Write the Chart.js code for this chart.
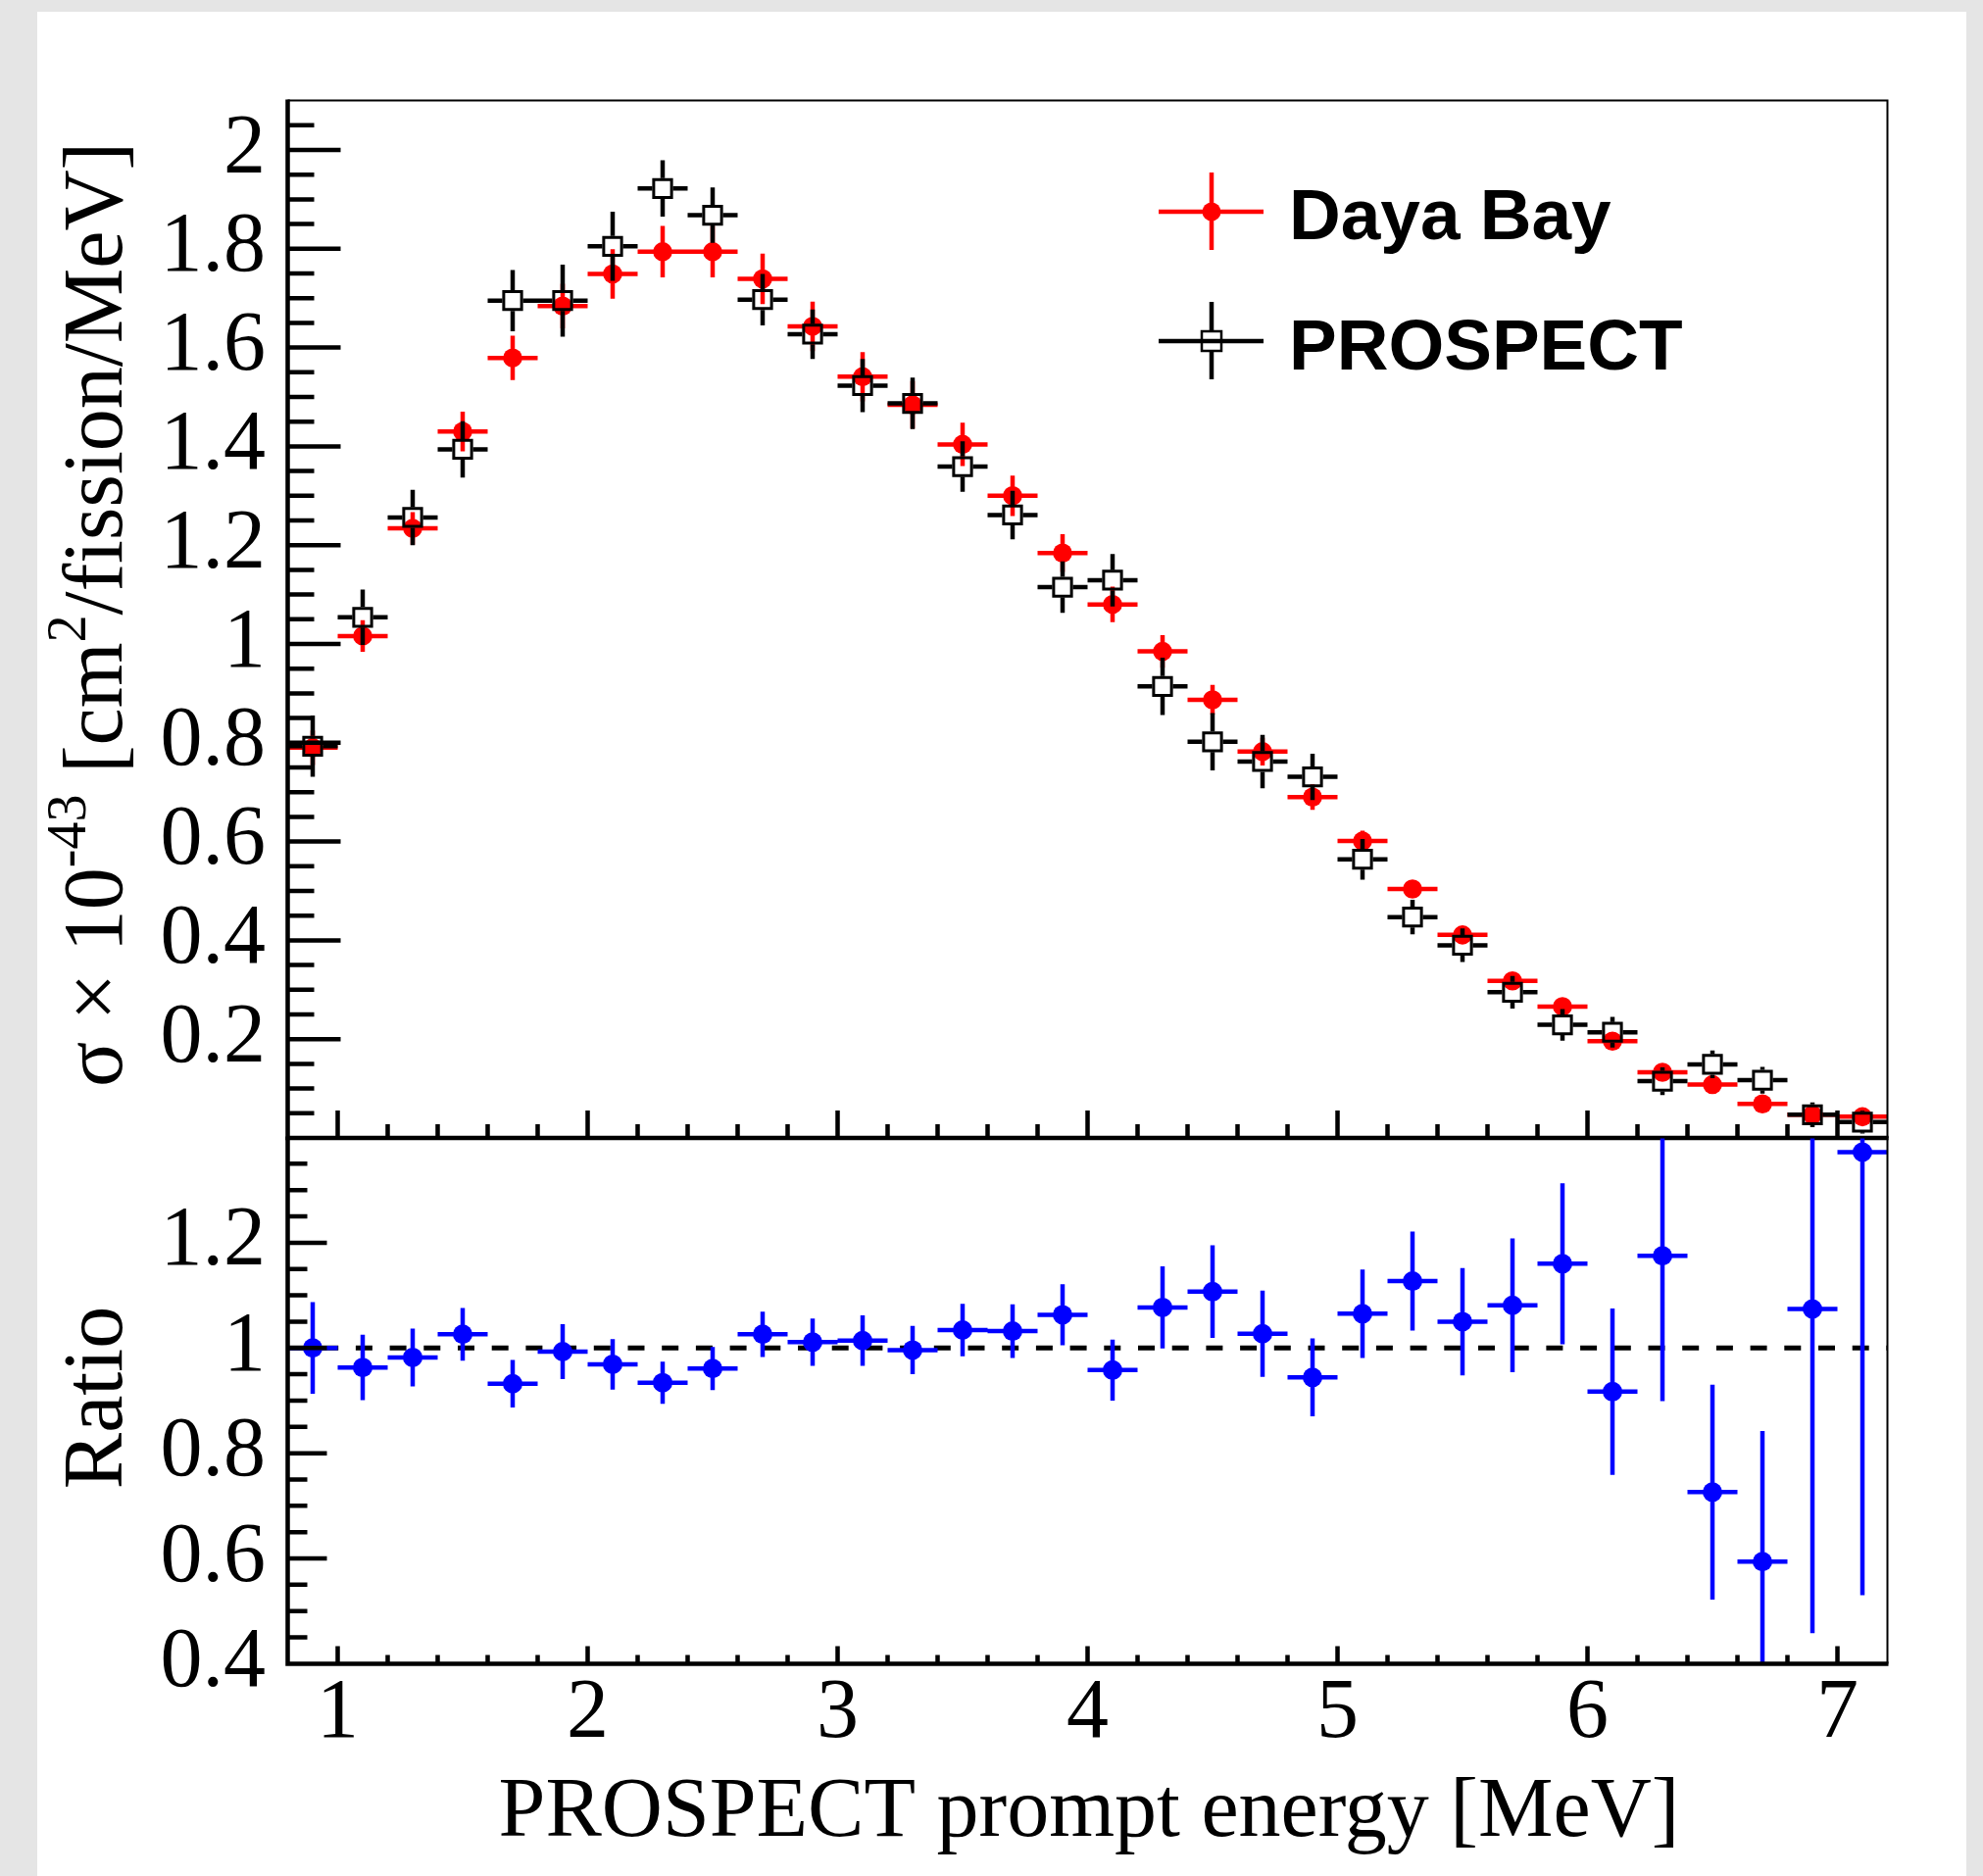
<!DOCTYPE html>
<html>
<head>
<meta charset="utf-8">
<script src="https://cdn.jsdelivr.net/npm/chart.js@4.4.0/dist/chart.umd.min.js"></script>
<style>
  html, body { margin: 0; padding: 0; background: #e5e5e5; }
  #page  { position: relative; width: 2023px; height: 1914px; overflow: hidden; }
  #paper { position: absolute; left: 38px; top: 12px; width: 1968px; height: 1902px; background: #fff; }
  canvas { position: absolute; left: 0; }
  #spectrum { top: 0; }
  #ratio    { top: 1080px; }
</style>
</head>
<body>
<div id="page">
  <div id="paper"></div>
  <canvas id="spectrum" width="2023" height="1241"></canvas>
  <canvas id="ratio" width="2023" height="834"></canvas>
</div>
<script>
// Bin centres [MeV], each bin is 0.2 MeV wide
const energy = [0.9, 1.1, 1.3, 1.5, 1.7, 1.9, 2.1, 2.3, 2.5, 2.7, 2.9, 3.1, 3.3, 3.5, 3.7, 3.9,
                4.1, 4.3, 4.5, 4.7, 4.9, 5.1, 5.3, 5.5, 5.7, 5.9, 6.1, 6.3, 6.5, 6.7, 6.9, 7.1];
const binHalfWidth = 0.1;

// sigma x 1e-43 [cm2/fission/MeV]
const dayaBay    = [0.790, 1.016, 1.234, 1.430, 1.579, 1.684, 1.749, 1.794, 1.794, 1.739, 1.643, 1.541, 1.484, 1.404, 1.300, 1.184,
                    1.080, 0.985, 0.887, 0.782, 0.690, 0.601, 0.504, 0.411, 0.318, 0.266, 0.196, 0.133, 0.108, 0.069, 0.047, 0.043];
const dayaBayErr = [0.035, 0.032, 0.033, 0.040, 0.045, 0.045, 0.050, 0.052, 0.052, 0.051, 0.050, 0.050, 0.048, 0.044, 0.041, 0.038,
                    0.036, 0.033, 0.030, 0.028, 0.026, 0.021, 0.018, 0.015, 0.012, 0.010, 0.008, 0.006, 0.005, 0.004, 0.003, 0.003];

const prospect    = [0.793, 1.054, 1.256, 1.394, 1.695, 1.695, 1.805, 1.922, 1.868, 1.697, 1.627, 1.523, 1.487, 1.359, 1.261, 1.115,
                     1.129, 0.914, 0.802, 0.762, 0.731, 0.564, 0.447, 0.390, 0.295, 0.229, 0.214, 0.115, 0.149, 0.117, 0.047, 0.032];
const prospectErr = [0.062, 0.056, 0.056, 0.057, 0.062, 0.073, 0.070, 0.057, 0.056, 0.052, 0.050, 0.054, 0.052, 0.051, 0.049, 0.052,
                     0.053, 0.058, 0.058, 0.054, 0.047, 0.041, 0.035, 0.034, 0.033, 0.032, 0.031, 0.028, 0.028, 0.027, 0.025, 0.023];

// Daya Bay / PROSPECT
const ratio    = [1.000, 0.963, 0.982, 1.026, 0.932, 0.993, 0.969, 0.934, 0.961, 1.026, 1.011, 1.014, 0.996, 1.034, 1.032, 1.063,
                  0.958, 1.077, 1.107, 1.027, 0.944, 1.065, 1.127, 1.050, 1.081, 1.160, 0.917, 1.175, 0.726, 0.594, 1.074, 1.372];
const ratioErr = [0.087, 0.062, 0.055, 0.050, 0.045, 0.052, 0.048, 0.040, 0.041, 0.043, 0.045, 0.048, 0.046, 0.050, 0.051, 0.058,
                  0.058, 0.078, 0.088, 0.082, 0.074, 0.084, 0.094, 0.102, 0.127, 0.153, 0.158, 0.276, 0.204, 0.248, 0.616, 0.842];

// Axes
const energyRange   = [0.8, 7.2];
const energyTicks   = [1, 2, 3, 4, 5, 6, 7];
const spectrumRange = [0, 2.1];
const spectrumTicks = [0.2, 0.4, 0.6, 0.8, 1, 1.2, 1.4, 1.6, 1.8, 2];
const ratioRange    = [0.4, 1.4];
const ratioTicks    = [0.4, 0.6, 0.8, 1, 1.2];

const SERIF = '"Liberation Serif", "Times New Roman", serif';
const SANS  = '"Liberation Sans", Arial, sans-serif';

const points = (ys) => energy.map((x, i) => ({ x, y: ys[i] }));

// ROOT-style error bars: whole bin width horizontally, vertical bars stop at the marker edge
const errorBars = {
  id: 'errorBars',
  beforeDatasetDraw(chart, args) {
    const ds = chart.data.datasets[args.index];
    if (!ds.errors) return;
    const { ctx, chartArea: a, scales: { x, y } } = chart;
    ctx.save();
    ctx.beginPath();
    ctx.rect(a.left, a.top, a.right - a.left, a.bottom - a.top);
    ctx.clip();
    ctx.strokeStyle = ds.errorColor;
    ctx.lineWidth = 4.5;
    ctx.beginPath();
    ds.data.forEach((p, i) => {
      const px = x.getPixelForValue(p.x);
      const py = y.getPixelForValue(p.y);
      const xl = x.getPixelForValue(p.x - binHalfWidth);
      const xr = x.getPixelForValue(p.x + binHalfWidth);
      const yt = y.getPixelForValue(p.y + ds.errors[i]);
      const yb = y.getPixelForValue(p.y - ds.errors[i]);
      const g = ds.errorGap;
      ctx.moveTo(xl, py); ctx.lineTo(px - g, py);
      ctx.moveTo(px + g, py); ctx.lineTo(xr, py);
      if (py - yt > g) { ctx.moveTo(px, py - g); ctx.lineTo(px, yt); }
      if (yb - py > g) { ctx.moveTo(px, py + g); ctx.lineTo(px, yb); }
    });
    ctx.stroke();
    ctx.restore();
  }
};

// Frame + inward major/minor ticks
const rootFrame = {
  id: 'rootFrame',
  afterDatasetsDraw(chart, args, opts) {
    const { ctx, chartArea: a, scales: { x, y } } = chart;
    ctx.save();
    ctx.strokeStyle = '#000';
    ctx.lineCap = 'butt';
    ctx.lineWidth = 4.5;
    ctx.beginPath();

    const yFrom = Math.ceil(y.min / opts.yMinor - 1e-6), yTo = Math.floor(y.max / opts.yMinor + 1e-6);
    const yEvery = Math.round(opts.yMajor / opts.yMinor);
    for (let k = yFrom; k <= yTo; k++) {
      const v = k * opts.yMinor;
      if (Math.abs(v - y.min) < 1e-6 || Math.abs(v - y.max) < 1e-6) continue;
      const py = y.getPixelForValue(v);
      const len = k % yEvery === 0 ? opts.yMajorLen : opts.yMinorLen;
      ctx.moveTo(a.left, py); ctx.lineTo(a.left + len, py);
    }

    const xFrom = Math.ceil(x.min / opts.xMinor - 1e-6), xTo = Math.floor(x.max / opts.xMinor + 1e-6);
    const xEvery = Math.round(opts.xMajor / opts.xMinor);
    for (let k = xFrom; k <= xTo; k++) {
      const v = k * opts.xMinor;
      if (Math.abs(v - x.min) < 1e-6 || Math.abs(v - x.max) < 1e-6) continue;
      const px = x.getPixelForValue(v);
      const len = k % xEvery === 0 ? opts.xMajorLen : opts.xMinorLen;
      ctx.moveTo(px, a.bottom); ctx.lineTo(px, a.bottom - len);
    }
    ctx.stroke();

    ctx.lineWidth = 2;
    ctx.beginPath();
    ctx.moveTo(a.left, a.top); ctx.lineTo(a.right, a.top); ctx.lineTo(a.right, a.bottom);
    ctx.stroke();

    ctx.lineWidth = 4.5;
    ctx.beginPath();
    ctx.moveTo(a.left, a.top - 1); ctx.lineTo(a.left, a.bottom); ctx.lineTo(a.right + 1, a.bottom);
    ctx.stroke();
    ctx.restore();
  }
};

function verticalTitle(ctx, parts, x, cy) {
  ctx.save();
  ctx.translate(x, cy);
  ctx.rotate(-Math.PI / 2);
  ctx.fillStyle = '#000';
  ctx.textAlign = 'left';
  ctx.textBaseline = 'alphabetic';
  let total = 0;
  parts.forEach(p => {
    ctx.font = `${p.size}px ${SERIF}`;
    p.w = ctx.measureText(p.text).width;
    total += p.w;
  });
  let cx = -total / 2;
  parts.forEach(p => {
    ctx.font = `${p.size}px ${SERIF}`;
    ctx.fillText(p.text, cx, -(p.rise || 0));
    cx += p.w;
  });
  ctx.restore();
}

// Upper pad: y title and legend
const spectrumDecor = {
  id: 'spectrumDecor',
  afterDraw(chart) {
    const { ctx } = chart;
    verticalTitle(ctx, [
      { text: 'σ × 10', size: 86 },
      { text: '-43', size: 56, rise: 37 },
      { text: ' [cm', size: 86 },
      { text: '2', size: 56, rise: 37 },
      { text: '/fission/MeV]', size: 86 },
    ], 124, 627);

    ctx.save();
    ctx.lineCap = 'butt';
    ctx.lineWidth = 4.5;
    // Daya Bay entry
    ctx.strokeStyle = '#ff0000';
    ctx.fillStyle = '#ff0000';
    ctx.beginPath();
    ctx.moveTo(1182, 216); ctx.lineTo(1289, 216);
    ctx.moveTo(1236, 176); ctx.lineTo(1236, 255);
    ctx.stroke();
    ctx.beginPath();
    ctx.arc(1236, 216, 9.5, 0, Math.PI * 2);
    ctx.fill();
    // PROSPECT entry
    ctx.strokeStyle = '#000';
    ctx.beginPath();
    ctx.moveTo(1182, 348); ctx.lineTo(1289, 348);
    ctx.moveTo(1236, 308); ctx.lineTo(1236, 338);
    ctx.moveTo(1236, 358); ctx.lineTo(1236, 387);
    ctx.stroke();
    ctx.lineWidth = 2.5;
    ctx.strokeRect(1226, 338, 20, 20);

    ctx.fillStyle = '#000';
    ctx.font = `bold 73px ${SANS}`;
    ctx.textAlign = 'left';
    ctx.textBaseline = 'alphabetic';
    ctx.fillText('Daya Bay', 1315, 244);
    ctx.fillText('PROSPECT', 1315, 377);
    ctx.restore();
  }
};

// Lower pad: titles
const ratioDecor = {
  id: 'ratioDecor',
  afterDraw(chart) {
    const { ctx } = chart;
    verticalTitle(ctx, [{ text: 'Ratio', size: 86 }], 124, 346);
    ctx.save();
    ctx.fillStyle = '#000';
    ctx.font = `86px ${SERIF}`;
    ctx.textAlign = 'center';
    ctx.textBaseline = 'alphabetic';
    ctx.fillText('PROSPECT prompt energy [MeV]', 1111, 793);
    ctx.restore();
  }
};

function yAxis(range, ticks, width) {
  return {
    type: 'linear',
    min: range[0],
    max: range[1],
    afterFit: s => { s.width = width; },
    afterBuildTicks: s => { s.ticks = ticks.map(v => ({ value: v })); },
    grid: { display: false, drawTicks: false },
    border: { display: false },
    ticks: {
      autoSkip: false,
      padding: 22.5,
      color: '#000',
      font: { family: SERIF, size: 86 },
      callback: v => String(v),
    },
  };
}

const baseOptions = {
  responsive: false,
  animation: false,
  events: [],
};

new Chart(document.getElementById('spectrum'), {
  type: 'scatter',
  data: {
    datasets: [
      {
        label: 'PROSPECT',
        data: points(prospect),
        errors: prospectErr,
        errorColor: '#000',
        errorGap: 10.5,
        pointStyle: 'rect',
        pointRadius: 12.9,
        pointBorderWidth: 3,
        pointBorderColor: '#000',
        pointBackgroundColor: 'rgba(0,0,0,0)',
        order: 0,
      },
      {
        label: 'Daya Bay',
        data: points(dayaBay),
        errors: dayaBayErr,
        errorColor: '#ff0000',
        errorGap: 0,
        pointStyle: 'circle',
        pointRadius: 9.8,
        pointBorderWidth: 0,
        pointBackgroundColor: '#ff0000',
        order: 1,
      },
    ],
  },
  options: {
    ...baseOptions,
    layout: { padding: { top: 102.6, right: 97.5, bottom: 80, left: 0 } },
    scales: {
      x: { type: 'linear', min: energyRange[0], max: energyRange[1], display: false },
      y: yAxis(spectrumRange, spectrumTicks, 293.5),
    },
    plugins: {
      legend: { display: false },
      tooltip: { enabled: false },
      rootFrame: { yMajor: 0.2, yMinor: 0.05, yMajorLen: 54, yMinorLen: 27,
                   xMajor: 1, xMinor: 0.2, xMajorLen: 28, xMinorLen: 14 },
    },
  },
  plugins: [errorBars, rootFrame, spectrumDecor],
});

new Chart(document.getElementById('ratio'), {
  type: 'scatter',
  data: {
    datasets: [
      {
        label: 'Ratio',
        data: points(ratio),
        errors: ratioErr,
        errorColor: '#0000ff',
        errorGap: 0,
        pointStyle: 'circle',
        pointRadius: 10,
        pointBorderWidth: 0,
        pointBackgroundColor: '#0000ff',
        order: 0,
      },
      {
        label: 'unity',
        type: 'line',
        data: energyRange.map(x => ({ x, y: 1 })),
        showLine: true,
        borderColor: '#000',
        borderWidth: 5,
        borderDash: [17, 17.7],
        pointRadius: 0,
        order: 1,
      },
    ],
  },
  options: {
    ...baseOptions,
    layout: { padding: { top: 80.5, right: 97.5, bottom: 0, left: 0 } },
    scales: {
      x: {
        type: 'linear',
        min: energyRange[0],
        max: energyRange[1],
        afterFit: s => { s.height = 216.6; },
        afterBuildTicks: s => { s.ticks = energyTicks.map(v => ({ value: v })); },
        grid: { display: false, drawTicks: false },
        border: { display: false },
        ticks: {
          autoSkip: false,
          maxRotation: 0,
          padding: 0,
          color: '#000',
          font: { family: SERIF, size: 86 },
          callback: v => String(v),
        },
      },
      y: yAxis(ratioRange, ratioTicks, 293.5),
    },
    plugins: {
      legend: { display: false },
      tooltip: { enabled: false },
      rootFrame: { yMajor: 0.2, yMinor: 0.05, yMajorLen: 40, yMinorLen: 20,
                   xMajor: 1, xMinor: 0.2, xMajorLen: 18, xMinorLen: 9 },
    },
  },
  plugins: [errorBars, rootFrame, ratioDecor],
});
</script>
</body>
</html>
